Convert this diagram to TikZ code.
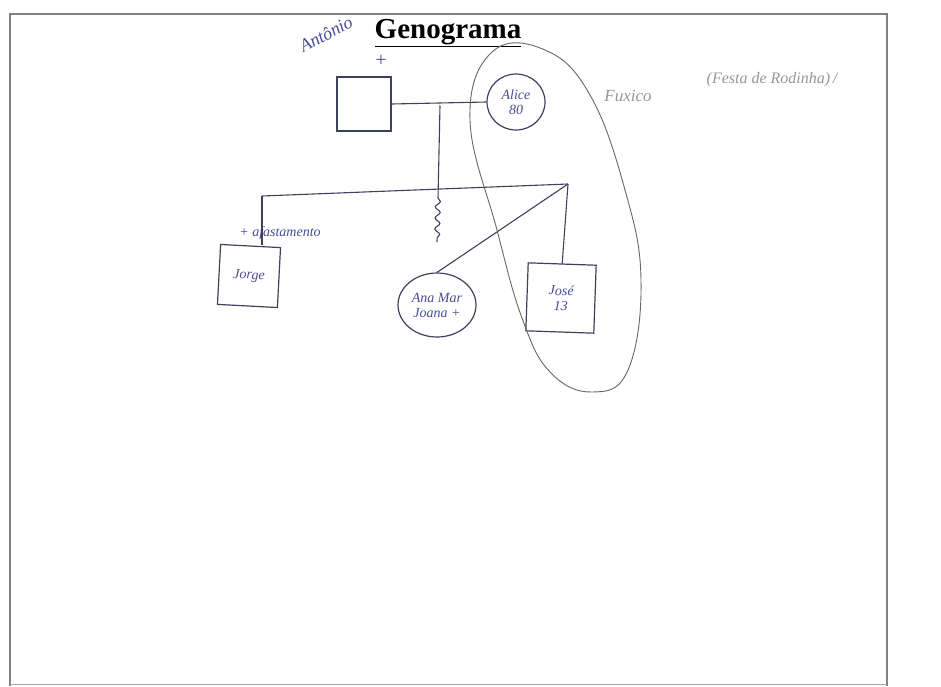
\documentclass[tikz,border=0pt]{standalone}
\usepackage{fontspec}
\setmainfont{Liberation Serif}
\usetikzlibrary{decorations.pathmorphing}
\definecolor{penline}{RGB}{62,64,96}
\definecolor{penblue}{RGB}{70,76,150}
\definecolor{pencil}{RGB}{150,150,150}
\newcommand{\handfont}{\itshape\fontsize{14}{15}\selectfont}
\tikzset{every picture/.style={line width=1pt},
  male/.style={draw=penline,line width=1.2pt,minimum width=#1,minimum height=#1,inner sep=1pt,align=center,text=penblue,font=\handfont},
  female/.style={draw=penline,line width=1.2pt,ellipse,inner sep=1pt,align=center,text=penblue,font=\handfont},
  tie/.style={draw=penline,line width=1.1pt},
  hand/.style={text=penblue,font=\handfont,inner sep=0.75pt},
  faint/.style={text=pencil,font=\handfont,inner sep=0.75pt}}
\usetikzlibrary{shapes.geometric}
\begin{document}
\begin{tikzpicture}[x=1pt,y=1pt,yscale=-1,xscale=1]
    \useasboundingbox (0,0) rectangle (941,686);
    % frame of the sheet
    \draw [color=gray,line width=1.2pt] (10,686) -- (10,14) -- (887,14) -- (887,686) ;
    \draw [color=gray!70] (10,684) -- (887,684) ;
    \node (title) at (448,33) {\fontsize{29}{32}\selectfont\bfseries\underline{Genograma}};
    % parents
    \node [male=54pt] (pai) at (364,104) {};
    \node [female,minimum width=58pt,minimum height=56pt] (alice) at (516,102) {Alice\\80};
    \node [hand,font=\fontsize{20}{20}\selectfont] (cruz) at (381,61) {+};
    \node [hand,rotate=28,font=\itshape\fontsize{18}{18}\selectfont] (nome) at (326,34) {Antônio};
    \draw [tie] (pai.east) -- (alice.west) ;
    \coordinate (uniao) at (440,105.5);
    \coordinate (irmE) at (262,196);
    \coordinate (irmD) at (568,184);
    \coordinate (sonho) at (438,198);
    \coordinate (fim) at (437,242);
    \draw [tie] (uniao) -- (sonho) ;
    \draw [tie,decorate,decoration={snake,amplitude=2.5pt,segment length=11pt}] (sonho) -- (fim) ;
    \draw [tie] (irmE) -- (irmD) ;
    % children
    \node [male=60pt,rotate=-3] (filho1) at (249,276) {Jorge};
    \node [female,minimum width=78pt,minimum height=64pt] (filha) at (437,305) {Ana Mar\\Joana +};
    \node [male=68pt,rotate=-2] (filho2) at (561,298) {José\\13};
    \node [hand] (obs) at (280,233) {+ afastamento};
    \draw [tie] (irmE) -- (irmE |- filho1.north) ;
    \draw [tie] (irmD) -- (filha.north) ;
    \draw [tie] (irmD) -- (filho2.north) ;
    % loop round the close ones
    \draw [color=gray!80!black,line width=0.9pt] plot [smooth cycle,tension=0.7] coordinates {(492,52) (545,50) (590,95) (625,190) (641,280) (628,370) (592,392) (550,372) (522,318) (497,230) (470,120)} ;
    \node [faint,font=\itshape\fontsize{17}{17}\selectfont] (fuxico) at (628,96) {Fuxico};
    \node [faint,font=\itshape\fontsize{16}{16}\selectfont] (festa) at (772,80) {(Festa de Rodinha)\,/};
\end{tikzpicture}
\end{document}
